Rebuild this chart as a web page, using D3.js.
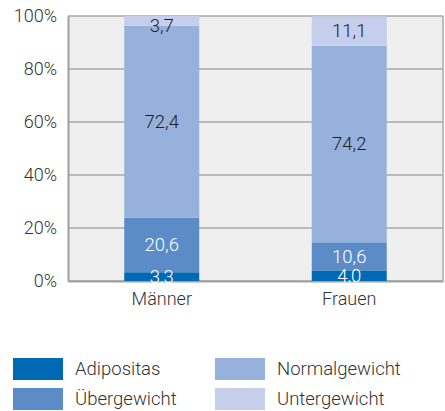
<!DOCTYPE html>
<html>
<head>
<meta charset="utf-8">
<script src="https://cdn.jsdelivr.net/npm/d3@7"></script>
<style>
  body { margin: 0; background: #fff; }
  svg { display: block; font-family: Roboto, sans-serif; font-weight: 300; }
</style>
</head>
<body>
<svg id="chart" width="445" height="411"></svg>
<script>
// data
const groups = ["Männer", "Frauen"];
const categories = ["Adipositas", "Übergewicht", "Normalgewicht", "Untergewicht"];
const adipositas = [3.3, 4.0];
const uebergewicht = [20.6, 10.6];
const normalgewicht = [72.4, 74.2];
const untergewicht = [3.7, 11.1];
const yTicks = [0, 20, 40, 60, 80, 100];
const colors = ["#0069b4", "#5b8cc8", "#96b1dc", "#c5cfec"];
const labelColors = ["#ffffff", "#ffffff", "#222222", "#222222"];

const svg = d3.select("#chart");
const margin = { top: 16, right: 2, bottom: 130, left: 68 };
const width = 445, height = 411;

// build rows for the stack
const rows = groups.map((g, i) => ({
  group: g,
  "Adipositas": adipositas[i],
  "Übergewicht": uebergewicht[i],
  "Normalgewicht": normalgewicht[i],
  "Untergewicht": untergewicht[i]
}));
const stacked = d3.stack().keys(categories)(rows);

const x = d3.scaleBand()
    .domain(groups)
    .range([margin.left, width - margin.right])
    .paddingInner(0.6)
    .paddingOuter(0.3);

const y = d3.scaleLinear()
    .domain([0, 100])
    .range([height - margin.bottom, margin.top]);

// plot background
svg.append("rect")
    .attr("x", margin.left)
    .attr("y", margin.top)
    .attr("width", width - margin.right - margin.left)
    .attr("height", y(0) - y(100))
    .attr("fill", "#efefef");

// gridlines
svg.append("g")
    .selectAll("line")
    .data(yTicks)
    .join("line")
    .attr("x1", margin.left)
    .attr("x2", width - margin.right)
    .attr("y1", d => y(d))
    .attr("y2", d => y(d))
    .attr("stroke", "#a8a8a8")
    .attr("stroke-width", 1.5);

// right border
svg.append("line")
    .attr("x1", width - margin.right)
    .attr("x2", width - margin.right)
    .attr("y1", y(100))
    .attr("y2", y(0))
    .attr("stroke", "#a8a8a8")
    .attr("stroke-width", 1.5);

// y axis
const yAxis = d3.axisLeft(y)
    .tickValues(yTicks)
    .tickFormat(d => d + "%")
    .tickSize(0)
    .tickPadding(11);

const gy = svg.append("g")
    .attr("transform", `translate(${margin.left},0)`)
    .call(yAxis);
gy.select(".domain").attr("stroke", "#a0a0a0").attr("stroke-width", 2);
gy.selectAll("text")
    .attr("fill", "#333")
    .style("font-size", "18px")
    .style("font-family", "Roboto, sans-serif")
    .style("font-weight", 300);

// x axis
const xAxis = d3.axisBottom(x).tickSize(0).tickPadding(11);
const gx = svg.append("g")
    .attr("transform", `translate(0,${y(0)})`)
    .call(xAxis);
gx.select(".domain").attr("stroke", "#a0a0a0").attr("stroke-width", 2);
gx.selectAll("text")
    .attr("fill", "#333")
    .style("font-size", "18px")
    .style("font-family", "Roboto, sans-serif")
    .style("font-weight", 300);

// bars
const layers = svg.append("g")
    .selectAll("g")
    .data(stacked)
    .join("g")
    .attr("fill", (d, i) => colors[i]);

layers.selectAll("rect")
    .data(d => d)
    .join("rect")
    .attr("x", d => x(d.data.group))
    .attr("y", d => y(d[1]))
    .attr("width", x.bandwidth())
    .attr("height", d => y(d[0]) - y(d[1]));

// value labels
const fmt = v => v.toFixed(1).replace(".", ",");
stacked.forEach((layer, li) => {
  svg.append("g")
    .selectAll("text")
    .data(layer)
    .join("text")
    .attr("x", d => x(d.data.group) + x.bandwidth() / 2)
    .attr("y", d => Math.max(y((d[0] + d[1]) / 2), y(100) + 10))
    .attr("dy", "0.35em")
    .attr("text-anchor", "middle")
    .attr("fill", labelColors[li])
    .style("font-size", "18.5px")
    .text(d => fmt(d[1] - d[0]));
});

// legend
const legend = svg.append("g")
    .selectAll("g")
    .data(categories)
    .join("g")
    .attr("transform", (d, i) => `translate(${13 + Math.floor(i / 2) * 202},${358 + (i % 2) * 30})`);

legend.append("rect")
    .attr("width", 50)
    .attr("height", 22)
    .attr("fill", (d, i) => colors[i]);

legend.append("text")
    .attr("x", 62)
    .attr("y", 11)
    .attr("dy", "0.35em")
    .attr("fill", "#333")
    .style("font-size", "18.5px")
    .text(d => d);
</script>
</body>
</html>
